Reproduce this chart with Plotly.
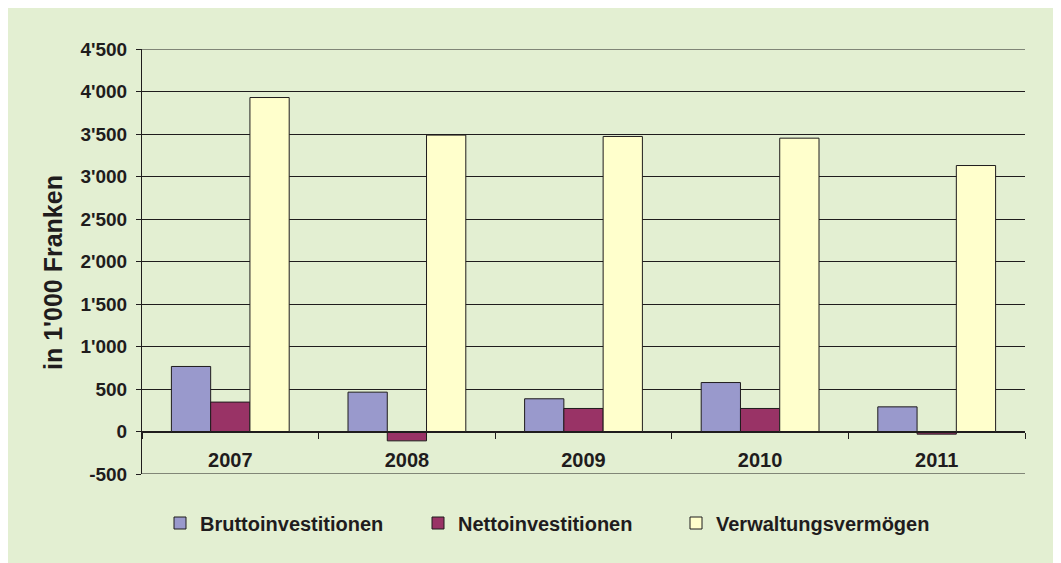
import plotly.graph_objects as go

# ---- data ----
years = ["2007", "2008", "2009", "2010", "2011"]
brutto = [765, 463, 385, 576, 290]
netto = [346, -110, 271, 271, -31]
verwaltung = [3929, 3487, 3471, 3451, 3129]

series_names = ["Bruttoinvestitionen", "Nettoinvestitionen", "Verwaltungsvermögen"]
series_colors = ["#9999CC", "#993366", "#FFFFCC"]

y_tickvals = [-500, 0, 500, 1000, 1500, 2000, 2500, 3000, 3500, 4000, 4500]
y_ticktext = ["-500", "0", "500", "1'000", "1'500", "2'000", "2'500",
              "3'000", "3'500", "4'000", "4'500"]
y_title = "in 1'000 Franken"

FONT = "Arial, 'Liberation Sans', sans-serif"
TXT = "#1f1c1d"
LINE = "#1f1c1d"
GREEN = "#E3EFD2"

W, H = 1061, 563
# page body adds an 8px offset; figure coordinates = screen - 8
ML, MR, MT, MB = 134, 44, 41, 97
PW, PH = W - ML - MR, H - MT - MB

fig = go.Figure()
for name, vals, col in zip(series_names, [brutto, netto, verwaltung], series_colors):
    fig.add_trace(go.Bar(
        x=years, y=vals, name=name,
        marker=dict(color=col, line=dict(color=LINE, width=1)),
    ))

# gridlines at the range edges (plotly hides them by default)
for yv in (y_tickvals[0], y_tickvals[-1]):
    fig.add_shape(type="line", xref="paper", yref="y", x0=0, x1=1, y0=yv, y1=yv,
                  line=dict(color=LINE, width=1), layer="below")

# y-axis title (placed as rotated text, slightly below the plot centre as in the original)
fig.add_annotation(
    text=y_title, textangle=-90, showarrow=False,
    xref="paper", yref="paper",
    x=(53 - 8 - ML) / PW, y=(H - (273 - 8) - MB) / PH,
    xanchor="center", yanchor="middle",
    font=dict(family=FONT, size=25, color=TXT, weight="bold"),
)

fig.update_layout(
    width=W, height=H,
    margin=dict(l=ML, r=MR, t=MT, b=MB, pad=0, autoexpand=False),
    paper_bgcolor=GREEN,
    plot_bgcolor="rgba(0,0,0,0)",
    barmode="group",
    bargap=0.333,
    bargroupgap=0,
    font=dict(family=FONT, color=TXT, size=20, weight="bold"),
    showlegend=True,
    legend=dict(
        orientation="h", x=(152 - ML) / PW, xanchor="left",
        y=(H - 515 - MB) / PH, yanchor="middle",
        bgcolor="rgba(0,0,0,0)",
        font=dict(family=FONT, size=20, color=TXT, weight="bold"),
        entrywidth=213, entrywidthmode="pixels",
        traceorder="normal",
    ),
    xaxis=dict(
        type="category",
        anchor="free", position=500 / 5000,
        showline=True, linecolor=LINE, linewidth=1,
        ticks="outside", ticklen=6, tickcolor=LINE, tickwidth=1,
        tickson="boundaries",
        showgrid=False, zeroline=False,
        tickfont=dict(family=FONT, size=20, color=TXT, weight="bold"),
        ticklabelstandoff=10,
    ),
    yaxis=dict(
        range=[-500, 4500],
        tickmode="array", tickvals=y_tickvals, ticktext=y_ticktext,
        showline=True, linecolor=LINE, linewidth=1,
        ticks="outside", ticklen=5, tickcolor=LINE, tickwidth=1,
        showgrid=True, gridcolor=LINE, gridwidth=1,
        zeroline=False,
        tickfont=dict(family=FONT, size=19, color=TXT, weight="bold"),
        ticklabelstandoff=5,
    ),
)

fig.write_html("out.html")
